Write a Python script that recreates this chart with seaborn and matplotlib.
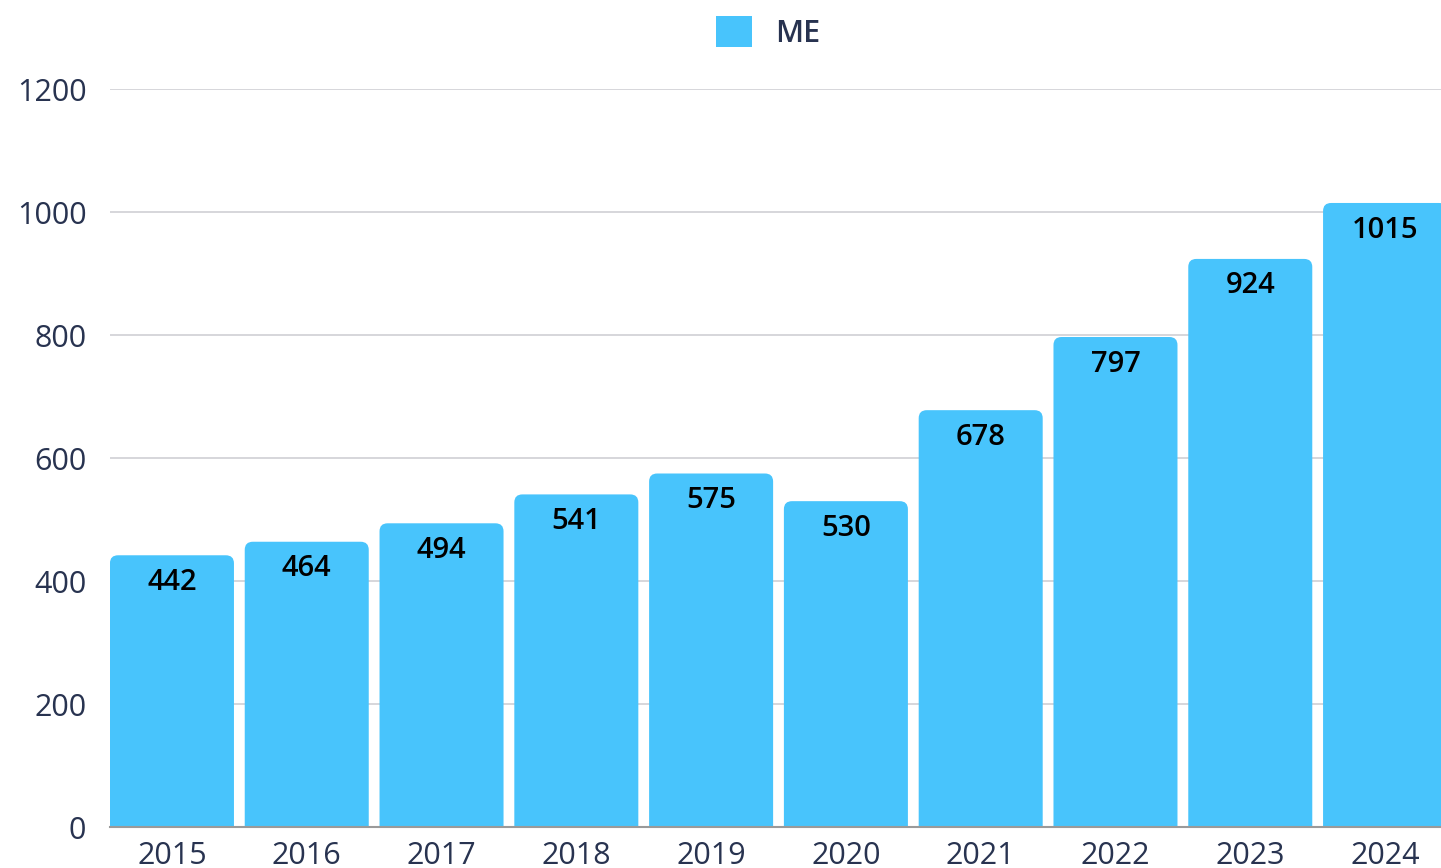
import matplotlib
matplotlib.use("Agg")
import pandas as pd
import matplotlib.pyplot as plt
import seaborn as sns
from matplotlib.patches import FancyBboxPatch, Patch

# Chart data
years = ["2015", "2016", "2017", "2018", "2019", "2020", "2021", "2022", "2023", "2024"]
values = [442, 464, 494, 541, 575, 530, 678, 797, 924, 1015]
series_name = "ME"

df = pd.DataFrame({"year": years, "value": values})

bar_color = "#48C4FC"
text_color = "#283350"

sns.set_theme(style="white")
plt.rcParams["font.family"] = ["Open Sans", "DejaVu Sans"]

fig = plt.figure(figsize=(14.41, 8.68), dpi=100)
ax = fig.add_axes([0.0763, 0.0472, 0.9237, 0.850])

sns.barplot(data=df, x="year", y="value", color=bar_color, width=0.92,
            saturation=1, ax=ax)

ax.set_ylim(0, 1200)
ax.set_xlim(-0.46, 9.415)

# swap the plain bars for ones with rounded tops
for p in list(ax.patches):
    x, w, h = p.get_x(), p.get_width(), p.get_height()
    p.remove()
    fb = FancyBboxPatch((x, -40), w, h + 40,
                        boxstyle="round,pad=0,rounding_size=0.06",
                        mutation_aspect=217, facecolor=bar_color,
                        edgecolor="none", zorder=2)
    ax.add_patch(fb)

# value labels inside the bar tops
for i, v in enumerate(values):
    ax.text(i, v - 44, str(v), ha="center", va="center", fontsize=21,
            fontweight="semibold", color="black", zorder=3)

ax.set_yticks(range(0, 1201, 200))
ax.grid(axis="y", color="#CFCFD4", linewidth=1.2, zorder=0)
ax.set_axisbelow(True)
for s in ["top", "right", "left"]:
    ax.spines[s].set_visible(False)
ax.spines["bottom"].set_color("#9A9A9A")
ax.spines["bottom"].set_linewidth(1.5)
ax.tick_params(axis="both", length=0, labelsize=22, labelcolor=text_color)
ax.tick_params(axis="y", pad=17)
ax.tick_params(axis="x", pad=10)
ax.set_xlabel("")
ax.set_ylabel("")

handle = Patch(facecolor=bar_color, edgecolor="none")
leg = fig.legend([handle], [series_name], loc="center", bbox_to_anchor=(0.533, 0.963),
                 frameon=False, handlelength=1.2, handleheight=1.2,
                 handletextpad=0.75, prop={"size": 22, "weight": "semibold"})
for t in leg.get_texts():
    t.set_color(text_color)

fig.savefig("out.png", dpi=100)
